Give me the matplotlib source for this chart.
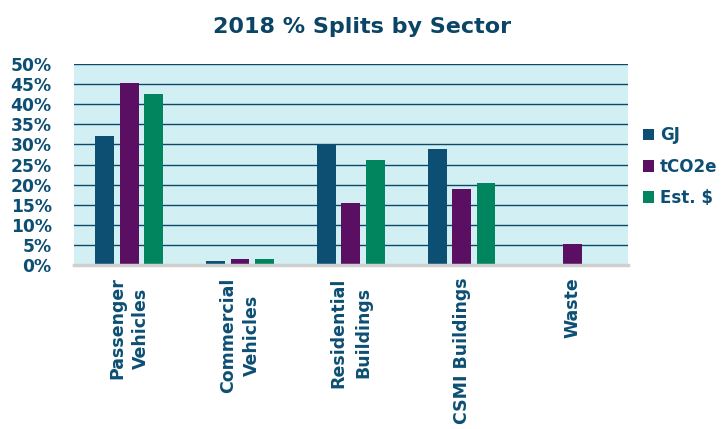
import numpy as np
import matplotlib
matplotlib.use("Agg")
import matplotlib.pyplot as plt
from matplotlib.ticker import FuncFormatter, MultipleLocator

NAVY = "#0d4f73"
PLUM = "#5a0f62"
GREEN = "#00855f"
PANEL = "#d2f0f4"
GRID = "#0d4a6a"

sectors = ["Passenger\nVehicles", "Commercial\nVehicles", "Residential\nBuildings",
           "CSMI Buildings", "Waste"]
series_names = ["GJ", "tCO2e", "Est. $"]
gj = [32.1, 1.0, 30.0, 28.9, 0.0]
tco2e = [45.3, 1.5, 15.4, 18.9, 5.2]
est_cost = [42.5, 1.5, 26.1, 20.4, 0.0]

plt.rcParams["font.family"] = ["DejaVu Sans"]

fig = plt.figure(figsize=(7.24, 4.29), dpi=100)
ax = fig.add_axes([0.102, 0.382, 0.765, 0.469])
ax.set_facecolor(PANEL)

x = np.arange(len(sectors))
width = 0.17
step = 0.22
for i, (vals, color, name) in enumerate(zip([gj, tco2e, est_cost],
                                            [NAVY, PLUM, GREEN], series_names)):
    ax.bar(x + (i - 1) * step, vals, width, color=color, label=name, zorder=3)

ax.set_xlim(-0.5, len(sectors) - 0.5)
ax.set_ylim(0, 50)
ax.yaxis.set_major_locator(MultipleLocator(5))
ax.yaxis.set_major_formatter(FuncFormatter(lambda v, p: f"{v:.0f}%"))
ax.grid(axis="y", color=GRID, linewidth=1.0, zorder=1)
ax.set_axisbelow(True)

for s in ["top", "right", "left"]:
    ax.spines[s].set_visible(False)
ax.spines["bottom"].set_color("#cfcfcf")
ax.spines["bottom"].set_linewidth(2.5)
ax.spines["bottom"].set_zorder(4)

ax.set_xticks(x)
ax.set_xticklabels(sectors, rotation=90, multialignment="center", linespacing=1.45,
                   fontsize=12.5, fontweight="bold", color=NAVY)
ax.tick_params(axis="x", length=0, pad=9)
ax.tick_params(axis="y", length=0, pad=16, labelsize=12.3, labelcolor=NAVY)
for lbl in ax.get_yticklabels():
    lbl.set_fontweight("bold")

fig.suptitle("2018 % Splits by Sector", x=0.5, y=0.96, fontsize=16,
             fontweight="bold", color="#0b4566")

leg = ax.legend(loc="center left", bbox_to_anchor=(1.0, 0.49), frameon=False,
                handlelength=0.7, handleheight=0.7, handletextpad=0.35,
                labelspacing=0.8, prop={"weight": "bold", "size": 12})
for t in leg.get_texts():
    t.set_color(NAVY)

fig.savefig("out.png", dpi=100, facecolor="white")
